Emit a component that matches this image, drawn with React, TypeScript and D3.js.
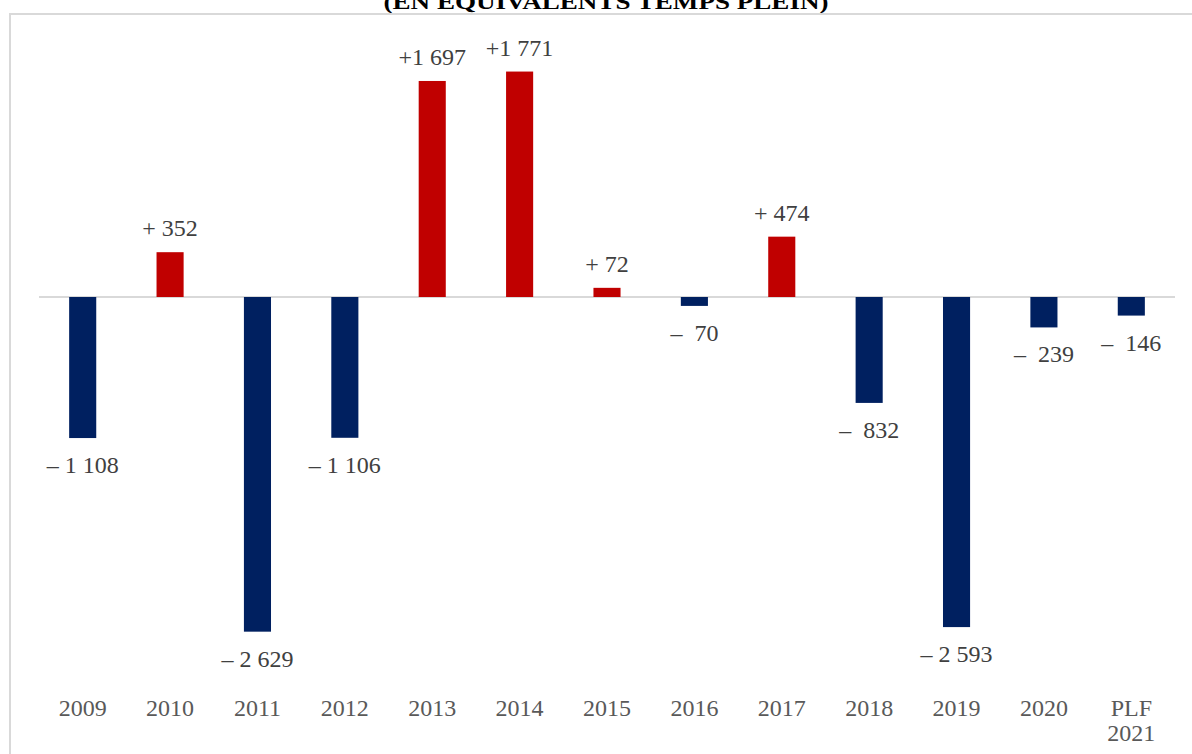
import React from "react";
import * as d3 from "d3";

const categories: string[] = ["2009","2010","2011","2012","2013","2014","2015","2016","2017","2018","2019","2020","PLF 2021"];
const values: number[] = [-1108, 352, -2629, -1106, 1697, 1771, 72, -70, 474, -832, -2593, -239, -146];
const valueLabels: string[] = ["– 1 108","+ 352","– 2 629","– 1 106","+1 697","+1 771","+ 72","–  70","+ 474","–  832","– 2 593","–  239","–  146"];
const title = "(EN ÉQUIVALENTS TEMPS PLEIN)";

const W = 1192, H = 754;
const plotLeft = 39, plotRight = 1175;
const zeroY = 297;
const pxPerUnit = 0.1273;

export default function App() {
  const x = d3.scaleBand<string>().domain(categories).range([plotLeft, plotRight]).paddingInner(0.69).paddingOuter(0.345);
  const y = d3.scaleLinear().domain([0, 1000]).range([zeroY, zeroY - 1000 * pxPerUnit]);
  const font = "'Liberation Serif', 'Times New Roman', serif";
  return (
    <svg width={W} height={H} style={{ position: "absolute", left: 0, top: 0, background: "#fff" }}>
      <text x={606} y={9} textAnchor="middle" fontFamily={font} fontWeight="bold" fontSize={22} textLength={445} lengthAdjust="spacingAndGlyphs" fill="#000">{title}</text>
      <path d={`M10,${H + 5} V14 H${W}`} fill="none" stroke="#d9d9d9" strokeWidth={2} />
      <line x1={plotLeft} x2={plotRight} y1={y(0)} y2={y(0)} stroke="#d9d9d9" strokeWidth={2} />
      {categories.map((c, i) => {
        const v = values[i];
        const bx = x(c)!;
        const top = Math.min(y(v), y(0));
        const h = Math.abs(y(v) - y(0));
        const cx = bx + x.bandwidth() / 2;
        const ly = v >= 0 ? y(v) - 16 : y(v) + 35;
        return (
          <g key={c}>
            <rect x={bx} y={top} width={x.bandwidth()} height={Math.max(h, 1)} fill={v >= 0 ? "#C00000" : "#002060"} />
            <text x={cx} y={ly} textAnchor="middle" fontFamily={font} fontSize={24} fill="#404040" style={{ whiteSpace: "pre" }}>{valueLabels[i]}</text>
          </g>
        );
      })}
      {categories.map((c) => {
        const cx = x(c)! + x.bandwidth() / 2;
        const parts = c.split(" ");
        return (
          <text key={"t" + c} x={cx} y={716} textAnchor="middle" fontFamily={font} fontSize={24} fill="#595959">
            {parts.map((p, j) => (
              <tspan key={j} x={cx} dy={j === 0 ? 0 : 25}>{p}</tspan>
            ))}
          </text>
        );
      })}
    </svg>
  );
}
